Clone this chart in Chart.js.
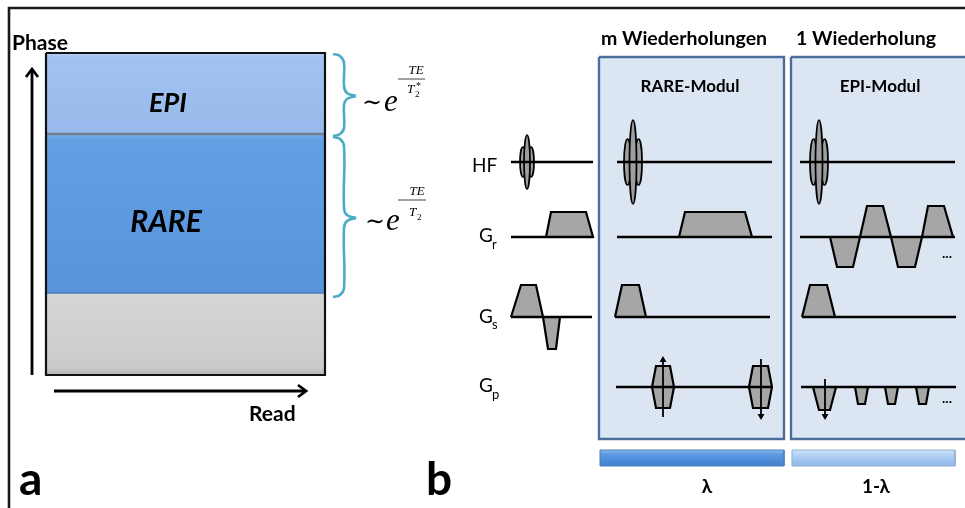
<!DOCTYPE html>
<html>
<head>
<meta charset="utf-8">
<script src="https://cdn.jsdelivr.net/npm/chart.js@4.4.1/dist/chart.umd.min.js"></script>
<style>
  html, body { margin: 0; padding: 0; background: #fff; }
  #wrap { width: 965px; height: 508px; }
</style>
</head>
<body>
<div id="wrap"><canvas id="diagram"></canvas></div>
<script>
// ---- panel a: k-space coverage (read x phase) ----
const readRange = [46, 325];
const epiRows = [53, 134];
const rareRows = [134, 293];
const emptyRows = [293, 375];
const phaseArrow = [[32, 375], [32, 69]];
const phaseHead = [[26, 77], [32, 69], [38, 77]];
const readArrow = [[54, 391], [306, 391]];
const readHead = [[298, 385], [306, 391], [298, 397]];
const braceEpiA = [[333, 54], [340, 56], [344, 63], [344, 86], [347, 93], [356, 96]];
const braceEpiB = [[333, 136], [340, 134], [344, 128], [344, 105], [347, 99], [356, 96]];
const braceRareA = [[333, 137], [340, 139], [344, 146], [344, 208], [347, 215], [356, 218]];
const braceRareB = [[333, 297], [340, 295], [344, 288], [344, 228], [347, 221], [356, 218]];
const fracEpi = [[398, 79], [425, 79]];
const fracRare = [[398, 200], [426, 200]];
const frame = [[9, 508], [9, 8], [965, 8]];

// ---- panel b: sequence diagram ----
const rareBox = [599, 784];
const epiBox = [791, 967];
const boxRows = [57, 439];
const lambdaBar = [600, 784];
const oneMinusBar = [792, 955];
const barRows = [450, 466];

// baselines per channel: [x0, x1, y]
const baselines = [
  [511, 593, 162], [617, 772, 162], [800, 955, 162],   // HF
  [511, 593, 237], [617, 772, 237], [800, 955, 237],   // Gr
  [511, 592, 317], [615, 770, 317], [802, 956, 317],   // Gs
  [616, 772, 387], [801, 956, 387]                     // Gp
];
const rfSmall = [[527, 162]];
const rfLarge = [[633, 162], [819, 162]];

const grLeft = [[546, 237], [551, 212], [586, 212], [593, 237]];
const grRare = [[679, 237], [685, 212], [745, 212], [752, 237]];
const grEpi = [
  [[830, 237], [837, 267], [853, 267], [860, 237]],
  [[860, 237], [867, 206], [883, 206], [891, 237]],
  [[891, 237], [898, 267], [915, 267], [922, 237]],
  [[922, 237], [928, 206], [944, 206], [953, 237]]
];
const gsLeft = [
  [[511, 317], [521, 285], [536, 285], [543, 317]],
  [[543, 317], [548, 349], [556, 349], [560, 317]]
];
const gsRare = [[615, 317], [622, 285], [639, 285], [646, 317]];
const gsEpi = [[802, 317], [810, 285], [827, 285], [835, 317]];
const gpRare = [
  [[652, 387], [656, 366], [670, 366], [674, 387], [670, 408], [656, 408]],
  [[749, 387], [753, 366], [768, 366], [772, 387], [768, 408], [753, 408]]
];
const gpEpi = [
  [[813, 387], [819, 410], [830, 410], [836, 387]],
  [[855, 387], [858, 404], [865, 404], [868, 387]],
  [[885, 387], [888, 404], [895, 404], [898, 387]],
  [[916, 387], [919, 404], [926, 404], [929, 387]]
];
const gpArrowsUp = [[[663, 417], [663, 360]]];
const gpArrowsDown = [[[761, 359], [761, 416]], [[825, 379], [825, 416]]];

// ---- text ----
const SANS = 'Lato, "Open Sans", sans-serif';
const SERIF = '"Liberation Serif", "DejaVu Serif", serif';
const textItems = [
  { text: 'Phase', x: 12, y: 50, font: `bold 21px ${SANS}` },
  { text: 'EPI', x: 168, y: 112, font: `italic bold 27px ${SANS}`, align: 'center' },
  { text: 'RARE', x: 166, y: 232, font: `italic bold 30px ${SANS}`, align: 'center' },
  { text: 'Read', x: 249, y: 421, font: `bold 21px ${SANS}` },
  { text: 'a', x: 19, y: 495, font: `bold 46px ${SANS}` },
  { text: 'b', x: 426, y: 495, font: `bold 46px ${SANS}` },
  { text: 'm Wiederholungen', x: 684, y: 45, font: `bold 19.5px ${SANS}`, align: 'center' },
  { text: '1 Wiederholung', x: 866, y: 45, font: `bold 19.5px ${SANS}`, align: 'center' },
  { text: 'RARE-Modul', x: 690, y: 92, font: `bold 17px ${SANS}`, align: 'center' },
  { text: 'EPI-Modul', x: 880, y: 92, font: `bold 17px ${SANS}`, align: 'center' },
  { text: 'HF', x: 472, y: 172, font: `19px ${SANS}` },
  { text: 'G', x: 479, y: 242, font: `19px ${SANS}` },
  { text: 'r', x: 492, y: 249, font: `13px ${SANS}` },
  { text: 'G', x: 479, y: 323, font: `19px ${SANS}` },
  { text: 's', x: 492, y: 329, font: `13px ${SANS}` },
  { text: 'G', x: 479, y: 392, font: `19px ${SANS}` },
  { text: 'p', x: 492, y: 399, font: `13px ${SANS}` },
  { text: '...', x: 947, y: 258, font: `bold 14px ${SANS}`, align: 'center' },
  { text: '...', x: 947, y: 403, font: `bold 14px ${SANS}`, align: 'center' },
  { text: 'λ', x: 707, y: 493, font: `bold 19px ${SANS}`, align: 'center' },
  { text: '1-λ', x: 876, y: 493, font: `bold 19px ${SANS}`, align: 'center' },
  // formulas
  { text: '∼', x: 372, y: 110, font: `24px ${SERIF}`, align: 'center' },
  { text: 'e', x: 384, y: 111, font: `italic 31px ${SERIF}` },
  { text: 'TE', x: 416, y: 74, font: `italic 13px ${SERIF}`, align: 'center' },
  { text: 'T', x: 407, y: 93, font: `italic 13px ${SERIF}` },
  { text: '2', x: 415, y: 97, font: `9px ${SERIF}` },
  { text: '*', x: 416, y: 89, font: `10px ${SERIF}` },
  { text: '∼', x: 375, y: 229, font: `24px ${SERIF}`, align: 'center' },
  { text: 'e', x: 386, y: 230, font: `italic 31px ${SERIF}` },
  { text: 'TE', x: 417, y: 195, font: `italic 13px ${SERIF}`, align: 'center' },
  { text: 'T', x: 409, y: 216, font: `italic 13px ${SERIF}` },
  { text: '2', x: 417, y: 220, font: `9px ${SERIF}` }
];

// ---- helpers ----
const pts = arr => arr.map(([x, y]) => ({ x, y }));
const closed = arr => arr.concat([arr[0]]);
const rect = (xs, ys) => [[xs[0], ys[0]], [xs[1], ys[0]], [xs[1], ys[1]], [xs[0], ys[1]], [xs[0], ys[0]]];

function vGrad(rows, stops) {
  return c => {
    const y = c.chart.scales.y;
    const fallback = stops[1][1];
    if (!y) return fallback;
    const y0 = y.getPixelForValue(rows[0]);
    const y1 = y.getPixelForValue(rows[1]);
    if (!isFinite(y0) || !isFinite(y1) || y0 === y1) return fallback;
    const g = c.chart.ctx.createLinearGradient(0, y0, 0, y1);
    stops.forEach(([o, col]) => g.addColorStop(o, col));
    return g;
  };
}

function pulseGlyph(hMain, hSide, rx, gap) {
  const c = document.createElement('canvas');
  c.width = Math.round(2 * (gap + rx) + 6);
  c.height = Math.round(2 * hMain + 6);
  const g = c.getContext('2d');
  const cx = c.width / 2, cy = c.height / 2;
  g.lineWidth = 1.7; g.strokeStyle = '#000'; g.fillStyle = '#9E9E9E';
  [[-gap, hSide], [gap, hSide], [0, hMain]].forEach(([dx, ry]) => {
    g.beginPath(); g.ellipse(cx + dx, cy, rx, ry, 0, 0, Math.PI * 2); g.fill(); g.stroke();
  });
  return c;
}

const datasets = [];
function add(points, opts) {
  datasets.push(Object.assign({
    data: pts(points), borderColor: '#000', borderWidth: 2.2, pointRadius: 0,
    fill: false, tension: 0, borderJoinStyle: 'miter'
  }, opts));
}
const shape = (points, color, extra) => add(closed(points), Object.assign({ fill: 'shape', backgroundColor: color }, extra));

// ---- build: panel a ----
shape(rect(readRange, epiRows), vGrad(epiRows, [[0, '#B8D3F7'], [0.05, '#A2C3F1'], [1, '#97BAEC']]), { borderWidth: 0 });
shape(rect(readRange, rareRows), vGrad(rareRows, [[0, '#7FB2EC'], [0.03, '#62A0E4'], [1, '#5893DB']]), { borderWidth: 0 });
shape(rect(readRange, emptyRows), vGrad(emptyRows, [[0, '#D6D6D6'], [0.9, '#CBCBCB'], [1, '#B8B8B8']]), { borderWidth: 0 });
add([[readRange[0], epiRows[1]], [readRange[1], epiRows[1]]], { borderColor: '#70808F', borderWidth: 2.5 });
add([[readRange[0], rareRows[1]], [readRange[1], rareRows[1]]], { borderColor: '#4B7DBD', borderWidth: 1.5 });
add(rect(readRange, [epiRows[0], emptyRows[1]]), { borderColor: '#111', borderWidth: 2.2 });
add(phaseArrow, { borderWidth: 2.8 });
add(phaseHead, { borderWidth: 2.8 });
add(readArrow, { borderWidth: 2.8 });
add(readHead, { borderWidth: 2.8 });
[braceEpiA, braceEpiB, braceRareA, braceRareB].forEach(b =>
  add(b, { borderColor: '#4BACC6', borderWidth: 2.6, tension: 0.45, borderJoinStyle: 'round' }));
add(fracEpi, { borderColor: '#555', borderWidth: 1.1 });
add(fracRare, { borderColor: '#555', borderWidth: 1.1 });
add(frame, { borderColor: '#1A1A1A', borderWidth: 2.6 });

// ---- build: panel b ----
shape(rect(rareBox, boxRows), '#DCE6F2', { borderColor: '#4A6D9C', borderWidth: 2.4 });
shape(rect(epiBox, boxRows), '#DCE6F2', { borderColor: '#4A6D9C', borderWidth: 2.4 });
shape(rect(lambdaBar, barRows), vGrad(barRows, [[0, '#8ABBF0'], [0.25, '#5E9BE3'], [1, '#3F7FD0']]), { borderColor: '#4F7FB8', borderWidth: 1 });
shape(rect(oneMinusBar, barRows), vGrad(barRows, [[0, '#D2E4F9'], [0.3, '#B4D1F4'], [1, '#8EB8EA']]), { borderColor: '#8FAFD2', borderWidth: 1 });

add(rfSmall, { showLine: false, pointRadius: 10, pointStyle: pulseGlyph(27, 15, 3, 4) });
add(rfLarge, { showLine: false, pointRadius: 10, pointStyle: pulseGlyph(42, 23, 3.5, 5.5) });

const lobeGray = '#A6A6A6';
[grLeft, grRare, gsRare, gsEpi].concat(grEpi, gsLeft, gpRare, gpEpi).forEach(p => shape(p, lobeGray));

baselines.forEach(([x0, x1, y]) => add([[x0, y], [x1, y]], { borderWidth: 2.6 }));

gpArrowsUp.forEach(a => add(a, {
  borderWidth: 1.8, pointRadius: [0, 4], pointStyle: 'triangle', rotation: 0,
  pointBackgroundColor: '#000', pointBorderColor: '#000', pointBorderWidth: 0
}));
gpArrowsDown.forEach(a => add(a, {
  borderWidth: 1.8, pointRadius: [0, 4], pointStyle: 'triangle', rotation: 180,
  pointBackgroundColor: '#000', pointBorderColor: '#000', pointBorderWidth: 0
}));

// first added is drawn first
datasets.forEach((d, i) => { d.order = datasets.length - i; });

const textPlugin = {
  id: 'diagramText',
  afterDatasetsDraw(chart) {
    const { ctx, scales: { x, y } } = chart;
    textItems.forEach(t => {
      ctx.save();
      ctx.font = t.font;
      ctx.fillStyle = t.color || '#000';
      ctx.textAlign = t.align || 'left';
      ctx.textBaseline = 'alphabetic';
      ctx.fillText(t.text, x.getPixelForValue(t.x), y.getPixelForValue(t.y));
      ctx.restore();
    });
  }
};

const chart = new Chart(document.getElementById('diagram').getContext('2d'), {
  type: 'line',
  data: { datasets: datasets },
  options: {
    responsive: true,
    maintainAspectRatio: false,
    animation: false,
    events: [],
    layout: { padding: 0, autoPadding: false },
    plugins: { legend: { display: false }, tooltip: { enabled: false } },
    scales: {
      x: { type: 'linear', min: 0, max: 965, display: false },
      y: { type: 'linear', min: 0, max: 508, reverse: true, display: false }
    }
  },
  plugins: [textPlugin]
});
chart.update();
</script>
</body>
</html>
